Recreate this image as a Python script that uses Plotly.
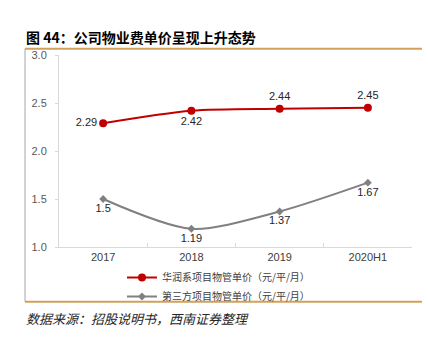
import plotly.graph_objects as go

# Data
periods = ["2017", "2018", "2019", "2020H1"]
cr_price = [2.29, 2.42, 2.44, 2.45]
third_price = [1.5, 1.19, 1.37, 1.67]
cr_name = "华润系项目物管单价（元/平/月）"
third_name = "第三方项目物管单价（元/平/月）"
title_text = "图 44：公司物业费单价呈现上升态势"
source_text = "数据来源：招股说明书，西南证券整理"

W, H = 428, 337
L, R, T, B = 59, 16, 55, 90
pw, ph = W - L - R, H - T - B


def px_x(px):
    return (px - L) / pw


def px_y(py):
    return (H - B - py) / ph


NUM_FONT = "Liberation Sans"
CJK_FONT = "Noto Sans CJK SC"
RED = "#c00000"
GRAY = "#808080"
GOLD = "#d2a05a"

fig = go.Figure()

fig.add_trace(go.Scatter(
    x=periods, y=cr_price, name=cr_name,
    mode="lines+markers+text",
    line=dict(color=RED, width=2, shape="spline", smoothing=0.8),
    marker=dict(symbol="circle", size=8, color=RED),
    text=[f"{v:g}" for v in cr_price],
    textposition=["middle left", "bottom center", "top center", "top center"],
    textfont=dict(family=NUM_FONT, size=11, color="#262626"),
))

fig.add_trace(go.Scatter(
    x=periods, y=third_price, name=third_name,
    mode="lines+markers+text",
    line=dict(color=GRAY, width=2, shape="spline", smoothing=0.8),
    marker=dict(symbol="diamond", size=6, color=GRAY),
    text=[f"{v:g}" for v in third_price],
    textposition="bottom center",
    textfont=dict(family=NUM_FONT, size=11, color="#262626"),
))

# Frame lines around the exhibit
shapes = [
    dict(type="line", xref="paper", yref="paper",
         x0=px_x(25), x1=px_x(422), y0=px_y(48.7), y1=px_y(48.7),
         line=dict(color=GOLD, width=2)),
    dict(type="line", xref="paper", yref="paper",
         x0=px_x(25), x1=px_x(422), y0=px_y(301.7), y1=px_y(301.7),
         line=dict(color=GOLD, width=2)),
    dict(type="line", xref="paper", yref="paper",
         x0=px_x(25), x1=px_x(25), y0=px_y(301.7), y1=px_y(48.7),
         line=dict(color="#a6a6a6", width=1)),
]

annotations = [
    dict(text=f"<b>{title_text}</b>", xref="paper", yref="paper",
         x=px_x(24), y=px_y(37), xanchor="left", yanchor="middle",
         showarrow=False, font=dict(family=CJK_FONT, size=14, color="#000000")),
    dict(text=f"<i>{source_text}</i>", xref="paper", yref="paper",
         x=px_x(24), y=px_y(318), xanchor="left", yanchor="middle",
         showarrow=False, font=dict(family=CJK_FONT, size=13, color="#262626")),
]

fig.update_layout(
    width=W, height=H,
    margin=dict(l=L, r=R, t=T, b=B),
    paper_bgcolor="white", plot_bgcolor="white",
    shapes=shapes, annotations=annotations,
    showlegend=True,
    legend=dict(
        x=px_x(122), y=px_y(263), xanchor="left", yanchor="top",
        orientation="v", font=dict(family=CJK_FONT, size=10, color="#404040"),
        bgcolor="rgba(0,0,0,0)", tracegroupgap=0, itemwidth=30,
    ),
)

fig.update_xaxes(
    type="category", range=[-0.5, 3.5],
    showline=True, linecolor="#d9d9d9", linewidth=1,
    ticks="inside", tickson="boundaries", ticklen=4, tickcolor="#d9d9d9",
    showgrid=False, zeroline=False,
    tickfont=dict(family=NUM_FONT, size=11, color="#404040"),
)
fig.update_yaxes(
    range=[1.0, 3.0], dtick=0.5, tickformat=".1f",
    showline=True, linecolor="#d9d9d9", linewidth=1,
    ticks="outside", ticklen=3, tickcolor="#d9d9d9",
    showgrid=False, zeroline=False,
    ticklabelstandoff=6,
    tickfont=dict(family=NUM_FONT, size=11, color="#595959"),
)

fig.write_html("out.html")
